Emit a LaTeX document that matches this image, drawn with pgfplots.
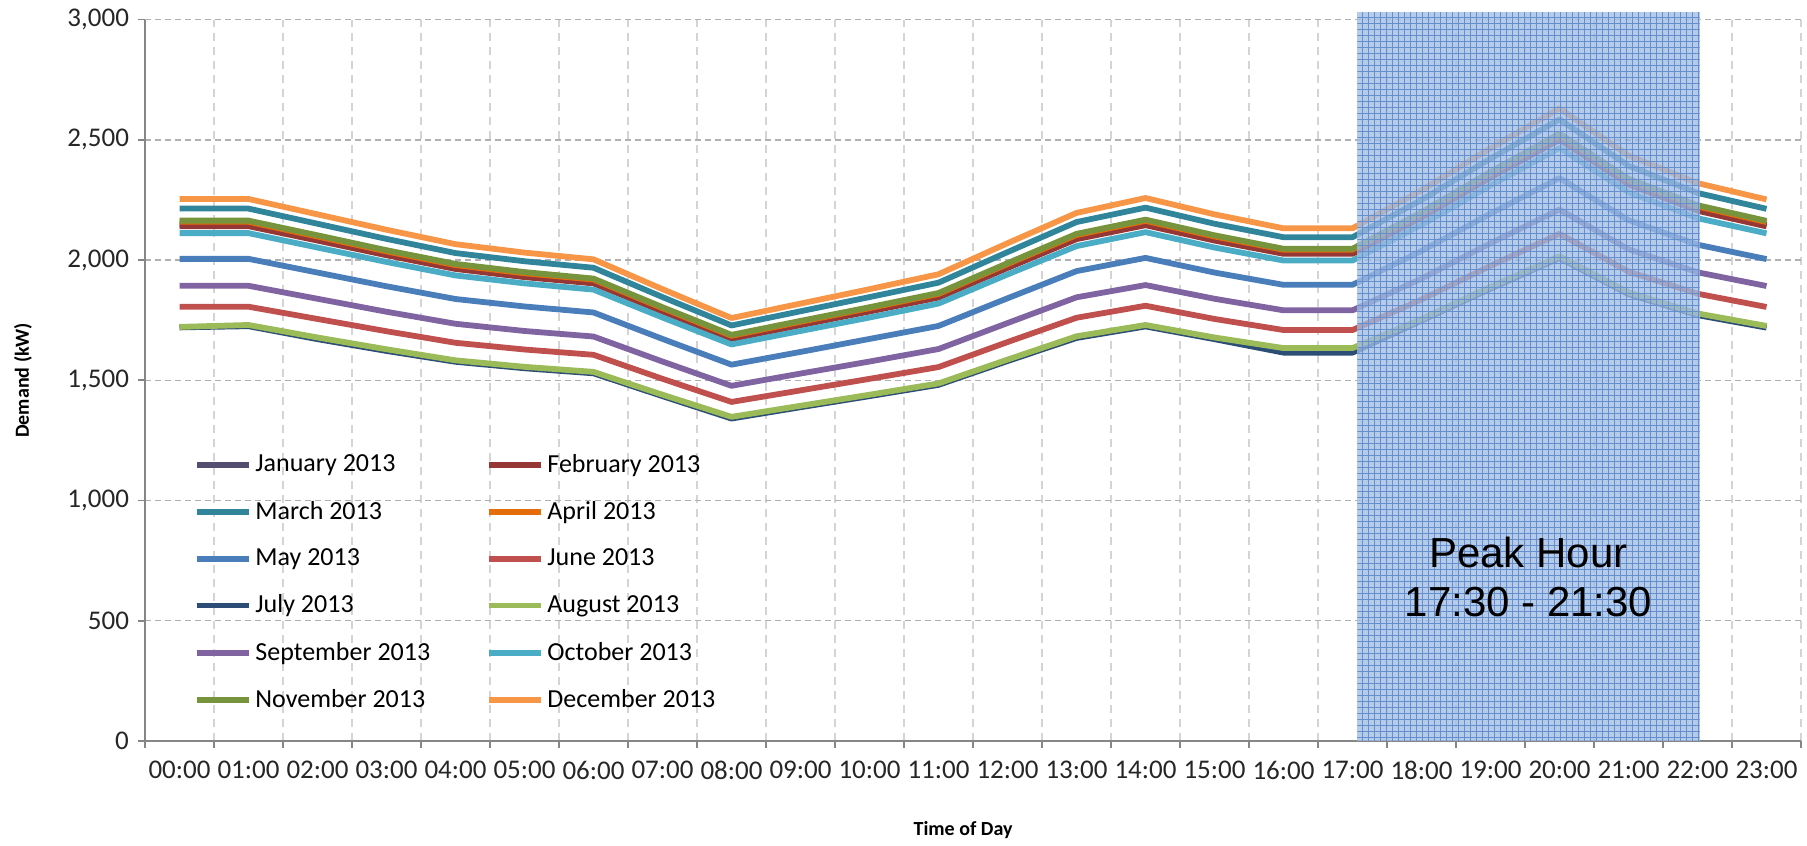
\documentclass[border=0pt]{standalone}
\usepackage{pgfplots}
\usepackage{pgfplotstable}
\pgfplotsset{compat=1.18}
\usetikzlibrary{patterns}
\usepackage{fontspec}
\setmainfont{Carlito}
\newfontfamily\arialfont{Liberation Sans}

\definecolor{cJan}{RGB}{84,78,112}
\definecolor{cFeb}{RGB}{149,55,53}
\definecolor{cMar}{RGB}{49,133,155}
\definecolor{cApr}{RGB}{228,108,10}
\definecolor{cMay}{RGB}{74,126,187}
\definecolor{cJun}{RGB}{192,80,77}
\definecolor{cJul}{RGB}{44,77,117}
\definecolor{cAug}{RGB}{155,187,89}
\definecolor{cSep}{RGB}{128,100,162}
\definecolor{cOct}{RGB}{75,172,198}
\definecolor{cNov}{RGB}{119,147,60}
\definecolor{cDec}{RGB}{247,150,70}
\definecolor{axisgray}{RGB}{134,134,134}
\definecolor{hgrid}{RGB}{175,175,180}
\definecolor{vgrid}{RGB}{212,212,212}
\definecolor{peakfill}{RGB}{160,188,228}
\definecolor{peakgrid}{RGB}{100,142,205}

\pgfplotstableread{
h jan feb mar apr may jun jul aug sep oct nov dec
0  2147 2141 2214 2159 2005 1806 1720 1722 1893 2112 2164 2254
1  2147 2141 2214 2159 2005 1806 1725 1730 1893 2112 2164 2254
2  2086 2081 2151 2098 1948 1755 1671 1678 1839 2052 2103 2190
3  2025 2020 2088 2036 1891 1704 1622 1629 1785 1992 2041 2126
4  1968 1963 2029 1979 1838 1656 1577 1583 1735 1936 1984 2066
5  1934 1929 1995 1945 1807 1628 1550 1556 1705 1903 1950 2031
6  1908 1903 1968 1919 1782 1606 1529 1535 1682 1877 1923 2003
7  1790 1786 1846 1800 1672 1506 1434 1440 1578 1761 1804 1879
8  1676 1672 1728 1685 1565 1410 1341 1348 1477 1649 1689 1759
9  1733 1729 1787 1743 1618 1458 1388 1394 1528 1705 1747 1819
10 1790 1786 1846 1800 1672 1506 1434 1440 1578 1761 1804 1879
11 1848 1844 1906 1859 1726 1555 1481 1487 1630 1819 1863 1941
12 1971 1967 2033 1983 1841 1659 1580 1586 1738 1940 1987 2070
13 2092 2087 2158 2104 1954 1760 1676 1683 1845 2058 2109 2196
14 2150 2145 2218 2163 2009 1810 1724 1730 1896 2116 2168 2258
15 2086 2081 2151 2098 1948 1755 1671 1678 1839 2052 2103 2190
16 2031 2026 2095 2043 1897 1709 1615 1634 1791 1998 2047 2132
17 2031 2026 2095 2043 1897 1709 1615 1634 1791 1998 2047 2132
18 2181 2176 2250 2194 2038 1836 1748 1755 1923 2146 2199 2290
19 2348 2342 2422 2361 2193 1976 1881 1889 2070 2310 2367 2465
20 2506 2500 2585 2520 2341 2109 2008 2016 2210 2466 2526 2631
21 2319 2314 2392 2333 2166 1952 1858 1866 2045 2282 2338 2435
22 2210 2205 2279 2223 2064 1860 1771 1778 1949 2174 2228 2320
23 2145 2140 2213 2158 2004 1805 1719 1726 1892 2111 2163 2252
}\demand

\begin{document}
\begin{tikzpicture}
\useasboundingbox (0,0) rectangle (903.5pt,422.5pt);
\begin{axis}[
  at={(72.5pt,52pt)}, anchor=south west,
  scale only axis, width=828pt, height=360.7pt,
  xmin=-0.5, xmax=23.5, ymin=0, ymax=3000,
  clip=false,
  axis x line*=bottom, axis y line*=left,
  axis line style={draw=axisgray, line width=0.9pt},
  xtick={0,...,23},
  xticklabels={00:00,01:00,02:00,03:00,04:00,05:00,06:00,07:00,08:00,09:00,10:00,11:00,12:00,13:00,14:00,15:00,16:00,17:00,18:00,19:00,20:00,21:00,22:00,23:00},
  minor xtick={-0.5,0.5,...,23.5},
  ytick={0,500,1000,1500,2000,2500,3000},
  yticklabels={0,500,{1,000},{1,500},{2,000},{2,500},{3,000}},
  tick align=outside,
  major tick length=3.5pt, minor tick length=3.5pt,
  every tick/.style={draw=axisgray, line width=0.9pt},
  every major x tick/.append style={draw=none},
  xminorgrids=true, ymajorgrids=true, xmajorgrids=false,
  minor grid style={draw=vgrid, dash pattern=on 4pt off 3pt, line width=0.6pt},
  major grid style={draw=hgrid, dash pattern=on 3pt off 2pt, line width=0.7pt},
  tick label style={font=\fontsize{13.5}{16}\selectfont, text=black!85},
  xticklabel style={yshift=-3pt},
  yticklabel style={xshift=-1pt},
  xlabel={Time of Day},
  ylabel={Demand (kW)},
  xlabel style={font=\bfseries\fontsize{10}{12}\selectfont, at={(axis description cs:0.494,-0.1234)}, anchor=center},
  ylabel style={font=\bfseries\fontsize{10}{12}\selectfont, at={(axis description cs:-0.0737,0.5)}, anchor=center},
  legend columns=2,
  legend cell align=left,
  legend image code/.code={\draw[#1] (0pt,0pt) -- (26pt,0pt);},
  legend style={at={(axis description cs:0.0255,0.409)}, anchor=north west,
    draw=none, fill=none, font=\fontsize{13}{15}\selectfont,
    row sep=9.1pt, column sep=0pt,
    /tikz/every even column/.append style={column sep=25.7pt}},
  every axis plot/.append style={line width=2.9pt, line join=round},
]
\addplot[cJan] table[x=h,y=jan] {\demand}; \addlegendentry{January 2013}
\addplot[cFeb] table[x=h,y=feb] {\demand}; \addlegendentry{February 2013}
\addplot[cMar] table[x=h,y=mar] {\demand}; \addlegendentry{March 2013}
\addplot[cApr] table[x=h,y=apr] {\demand}; \addlegendentry{April 2013}
\addplot[cMay] table[x=h,y=may] {\demand}; \addlegendentry{May 2013}
\addplot[cJun] table[x=h,y=jun] {\demand}; \addlegendentry{June 2013}
\addplot[cJul] table[x=h,y=jul] {\demand}; \addlegendentry{July 2013}
\addplot[cAug] table[x=h,y=aug] {\demand}; \addlegendentry{August 2013}
\addplot[cSep] table[x=h,y=sep] {\demand}; \addlegendentry{September 2013}
\addplot[cOct] table[x=h,y=oct] {\demand}; \addlegendentry{October 2013}
\addplot[cNov] table[x=h,y=nov] {\demand}; \addlegendentry{November 2013}
\addplot[cDec] table[x=h,y=dec] {\demand}; \addlegendentry{December 2013}

\addplot[draw=none, fill=peakfill, fill opacity=0.78, forget plot]
  coordinates {(17.07,0) (17.07,3030) (22.03,3030) (22.03,0)} -- cycle;
\addplot[draw=none, pattern=grid, pattern color=peakgrid, forget plot]
  coordinates {(17.07,0) (17.07,3030) (22.03,3030) (22.03,0)} -- cycle;

\node[font=\arialfont\fontsize{21}{24.5}\selectfont, align=center, text=black]
  at (axis cs:19.55,680) {Peak Hour\\17:30 - 21:30};
\end{axis}
\end{tikzpicture}
\end{document}
